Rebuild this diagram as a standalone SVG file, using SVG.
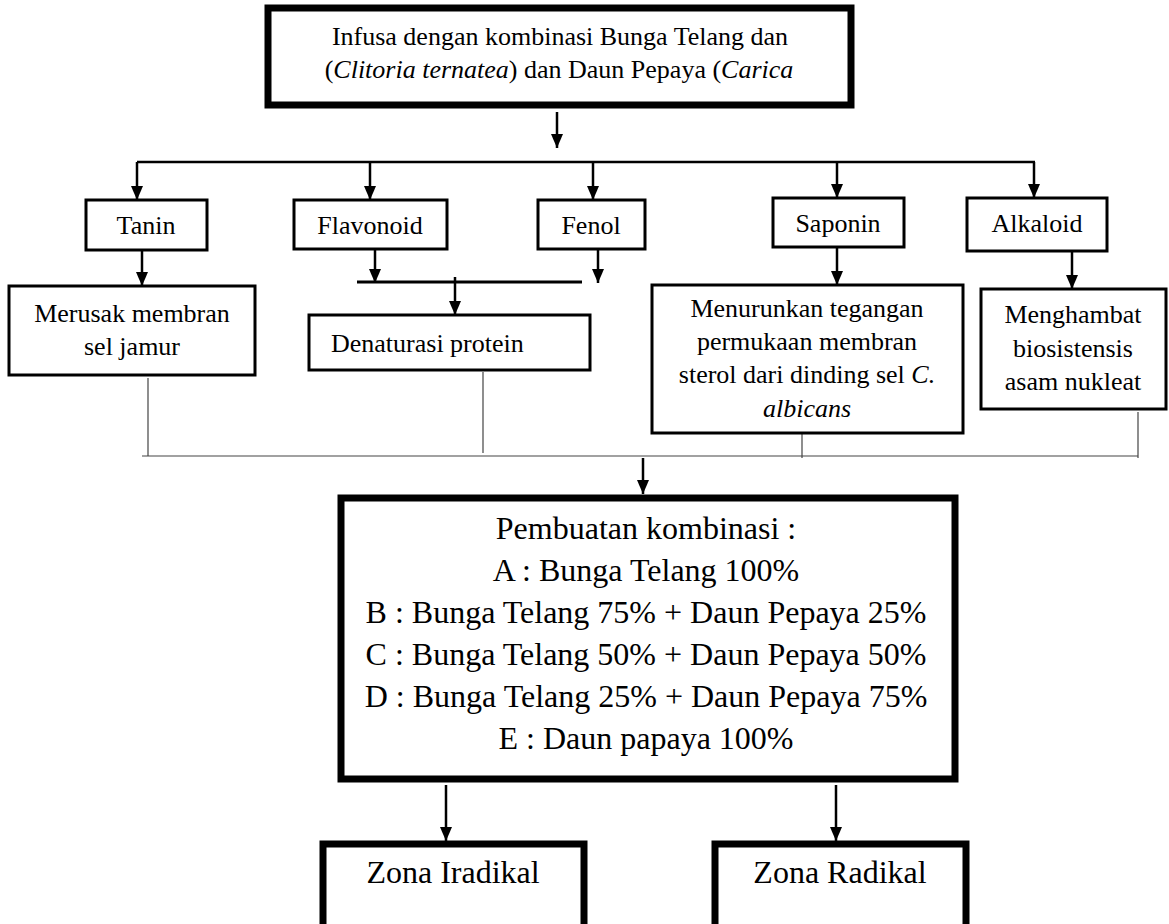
<svg xmlns="http://www.w3.org/2000/svg" width="1169" height="924" viewBox="0 0 1169 924">
<style>
text{font-family:"Liberation Serif","Times New Roman",serif;fill:#000}
.t{font-size:26px;text-anchor:middle}
.b{font-size:32px;text-anchor:middle}
.box{fill:#fff;stroke:#000;stroke-width:3}
.thick{fill:#fff;stroke:#000;stroke-width:7}
.c{stroke:#000;stroke-width:2.5;fill:none}
.thin{stroke:#444;stroke-width:1.2;fill:none}
</style>
<defs>
<marker id="a" markerWidth="14" markerHeight="12" refX="14" refY="6" orient="auto" markerUnits="userSpaceOnUse" viewBox="0 0 14 12">
<path d="M0,0 L14,6 L0,12 Z" fill="#000"/>
</marker>
</defs>
<g id="connectors">
<line class="c" x1="557" y1="112" x2="557" y2="148" marker-end="url(#a)"/>
<line class="c" x1="137" y1="162" x2="1035" y2="162"/>
<line class="c" x1="137" y1="162" x2="137" y2="200" marker-end="url(#a)"/>
<line class="c" x1="370" y1="162" x2="370" y2="200" marker-end="url(#a)"/>
<line class="c" x1="593" y1="162" x2="593" y2="200" marker-end="url(#a)"/>
<line class="c" x1="837" y1="162" x2="837" y2="198" marker-end="url(#a)"/>
<line class="c" x1="1034" y1="162" x2="1034" y2="198" marker-end="url(#a)"/>
<line class="c" x1="142" y1="251" x2="142" y2="286" marker-end="url(#a)"/>
<line class="c" x1="375" y1="250" x2="375" y2="283" marker-end="url(#a)"/>
<line class="c" x1="598" y1="250" x2="598" y2="283" marker-end="url(#a)"/>
<line stroke="#000" stroke-width="3" x1="357" y1="282" x2="582" y2="282"/>
<line class="c" x1="455" y1="277" x2="455" y2="315" marker-end="url(#a)"/>
<line class="c" x1="837" y1="248" x2="837" y2="285" marker-end="url(#a)"/>
<line class="c" x1="1072" y1="252" x2="1072" y2="289" marker-end="url(#a)"/>
<line class="thin" x1="148" y1="378" x2="148" y2="456"/>
<line class="thin" x1="483" y1="372" x2="483" y2="453"/>
<line class="thin" x1="802" y1="434" x2="802" y2="458"/>
<line class="thin" x1="1138" y1="412" x2="1138" y2="458"/>
<line class="thin" x1="142" y1="456" x2="1138" y2="456"/>
<line class="c" x1="643" y1="458" x2="643" y2="494" marker-end="url(#a)"/>
<line class="c" x1="446" y1="785" x2="446" y2="841" marker-end="url(#a)"/>
<line class="c" x1="836" y1="785" x2="836" y2="841" marker-end="url(#a)"/>
</g>
<g id="top">
<rect class="thick" x="268" y="8" width="583" height="97"/>
<text class="t" x="560" y="45">Infusa dengan kombinasi Bunga Telang dan</text>
<text class="t" x="559" y="78">(<tspan font-style="italic">Clitoria ternatea</tspan>) dan Daun Pepaya (<tspan font-style="italic">Carica</tspan></text>
</g>
<g id="tanin"><rect class="box" x="86" y="200" width="121" height="50"/><text class="t" x="146" y="234">Tanin</text></g>
<g id="flavonoid"><rect class="box" x="294" y="200" width="153" height="49"/><text class="t" x="370" y="234">Flavonoid</text></g>
<g id="fenol"><rect class="box" x="538" y="200" width="107" height="49"/><text class="t" x="591" y="234">Fenol</text></g>
<g id="saponin"><rect class="box" x="773" y="198" width="131" height="49"/><text class="t" x="838" y="232">Saponin</text></g>
<g id="alkaloid"><rect class="box" x="967" y="198" width="140" height="53"/><text class="t" x="1037" y="232">Alkaloid</text></g>
<g id="merusak"><rect class="box" x="9" y="286" width="246" height="89"/><text class="t" x="132" y="322">Merusak membran</text><text class="t" x="132" y="355">sel jamur</text></g>
<g id="denaturasi"><rect class="box" x="309" y="315" width="281" height="55"/><text x="331" y="352" font-size="26">Denaturasi protein</text></g>
<g id="menurunkan"><rect class="box" x="652" y="285" width="311" height="148"/>
<text class="t" x="807" y="317">Menurunkan tegangan</text>
<text class="t" x="807" y="350">permukaan membran</text>
<text class="t" x="807" y="383">sterol dari dinding sel <tspan font-style="italic">C.</tspan></text>
<text class="t" x="807" y="417" font-style="italic">albicans</text></g>
<g id="menghambat"><rect class="box" x="981" y="289" width="185" height="120"/>
<text class="t" x="1073" y="323">Menghambat</text>
<text class="t" x="1073" y="357">biosistensis</text>
<text class="t" x="1073" y="390">asam nukleat</text></g>
<g id="pembuatan"><rect class="thick" x="341" y="498" width="614" height="281"/>
<text class="b" x="646" y="539">Pembuatan kombinasi :</text>
<text class="b" x="646" y="581">A : Bunga Telang 100%</text>
<text class="b" x="646" y="623">B : Bunga Telang 75% + Daun Pepaya 25%</text>
<text class="b" x="646" y="665">C : Bunga Telang 50% + Daun Pepaya 50%</text>
<text class="b" x="646" y="707">D : Bunga Telang 25% + Daun Pepaya 75%</text>
<text class="b" x="646" y="749">E : Daun papaya 100%</text></g>
<g id="iradikal"><rect class="thick" x="323" y="844" width="261" height="95"/><text class="b" x="453" y="883">Zona Iradikal</text></g>
<g id="radikal"><rect class="thick" x="715" y="844" width="251" height="95"/><text class="b" x="840" y="883">Zona Radikal</text></g>
</svg>
